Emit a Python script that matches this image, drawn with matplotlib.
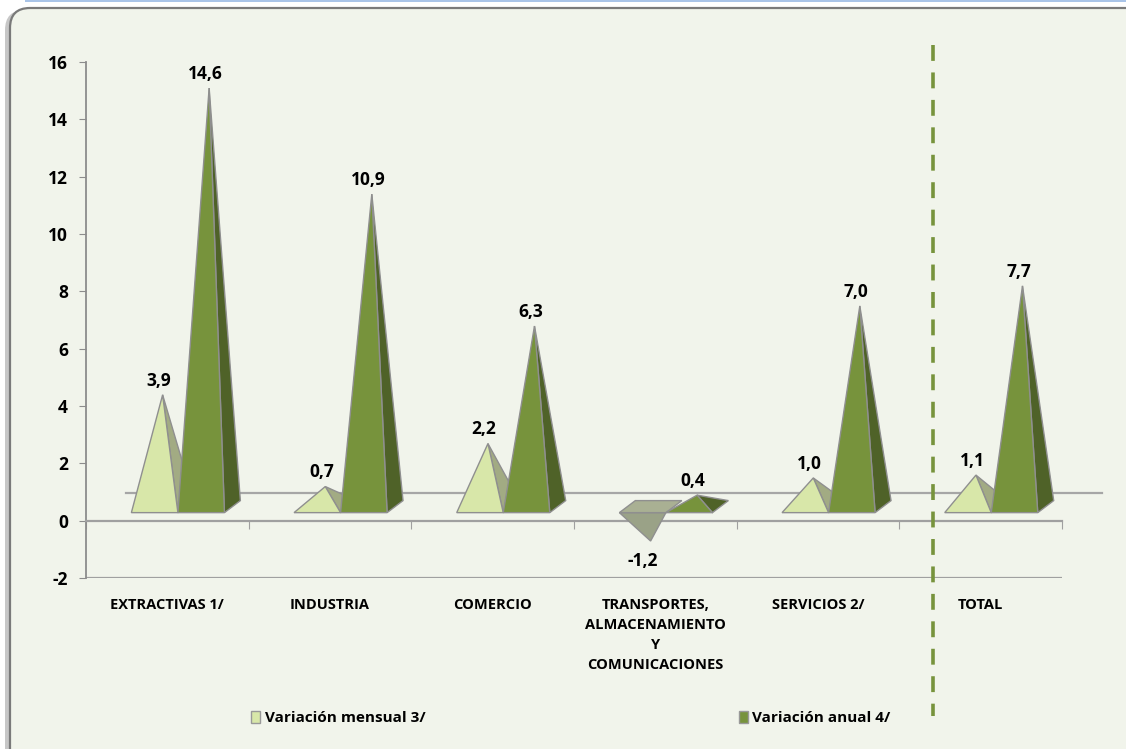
import matplotlib
matplotlib.use("Agg")
import matplotlib.pyplot as plt
from matplotlib.patches import Polygon, FancyBboxPatch, Patch, Rectangle

plt.rcParams["font.family"] = ["Open Sans", "DejaVu Sans"]
plt.rcParams["font.weight"] = "bold"

categories = ["EXTRACTIVAS 1/", "INDUSTRIA", "COMERCIO",
              "TRANSPORTES,\nALMACENAMIENTO\nY\nCOMUNICACIONES",
              "SERVICIOS 2/", "TOTAL"]
mensual = [3.9, 0.7, 2.2, -1.2, 1.0, 1.1]
anual = [14.6, 10.9, 6.3, 0.4, 7.0, 7.7]
series_names = ["Variación mensual 3/", "Variación anual 4/"]

LIGHT, LIGHT_SIDE = "#d8e7a9", "#a2ab83"
DARK, DARK_SIDE = "#77933c", "#4f6228"
NEG_TOP, NEG_FRONT = "#a9b093", "#9aa287"
EDGE = "#8f8f8f"
BG = "#f1f4eb"

# pyramid geometry (x in category units, y in value units)
WIDTH = 0.286
OFFSET = 0.279
DX, DY = 0.098, 0.42
BASE = 0.28

fig = plt.figure(figsize=(11.26, 7.49), dpi=100)
fig.patch.set_facecolor("white")

# rounded chart frame
bg = fig.add_axes([0, 0, 1, 1])
bg.set_xlim(0, 1126)
bg.set_ylim(749, 0)
bg.axis("off")
bg.add_patch(FancyBboxPatch((5, 10), 1160, 780, boxstyle="round,pad=0,rounding_size=20",
                            facecolor="#9a9a9a", edgecolor="none", alpha=0.55))
bg.add_patch(FancyBboxPatch((10, 8), 1150, 780, boxstyle="round,pad=0,rounding_size=20",
                            facecolor=BG, edgecolor="#7a7a7a", linewidth=1.6))
bg.add_patch(Rectangle((25, 0), 1110, 2, facecolor="#a9c4e8", edgecolor="none"))

ax = fig.add_axes([86 / 1126, 1 - 578 / 749, 976 / 1126, 516 / 749])
ax.set_facecolor("none")
ax.set_xlim(0, 6)
ax.set_ylim(-2, 16)

# back edge of the floor
ax.plot([0.246, 6.245], [0.98, 0.98], color="#a6a6a6", lw=1.6, zorder=1, clip_on=False)


def pyramid(x0, value, front, side):
    x1 = x0 + WIDTH
    xc = (x0 + x1) / 2
    apex = (xc + DX / 2, value + BASE + DY / 2)
    label = f"{value:.1f}".replace(".", ",")
    if value >= 0:
        ax.add_patch(Polygon([apex, (x1, BASE), (x1 + DX, BASE + DY)], closed=True,
                             facecolor=side, edgecolor=EDGE, lw=1, zorder=3))
        ax.add_patch(Polygon([(x0, BASE), (x1, BASE), apex], closed=True,
                             facecolor=front, edgecolor=EDGE, lw=1, zorder=3))
        ax.text(xc + DX / 4, apex[1] + 0.18, label, ha="center", va="bottom",
                fontsize=12.5, fontweight="bold", zorder=5)
    else:
        ax.add_patch(Polygon([(x0, BASE), (x1, BASE), apex], closed=True,
                             facecolor=NEG_FRONT, edgecolor=EDGE, lw=1, zorder=3))
        ax.add_patch(Polygon([(x0, BASE), (x1, BASE), (x1 + DX, BASE + DY), (x0 + DX, BASE + DY)],
                             closed=True, facecolor=NEG_TOP, edgecolor=EDGE, lw=1, zorder=3))
        ax.text(xc, apex[1] - 0.38, label, ha="center", va="top",
                fontsize=12.5, fontweight="bold", zorder=5)


for i, (m, a) in enumerate(zip(mensual, anual)):
    pyramid(i + OFFSET, m, LIGHT, LIGHT_SIDE)
    pyramid(i + OFFSET + WIDTH, a, DARK, DARK_SIDE)
    ax.text(i + 0.5, -2.7, categories[i], ha="center", va="top", fontsize=10.5,
            fontweight="bold", linespacing=1.55)

# separator before TOTAL
ax.plot([5.206, 5.206], [16.6, -6.8], color="#77933c", lw=2.6,
        linestyle=(0, (4.4, 3.2)), clip_on=False, zorder=4)

for s in ["top", "right"]:
    ax.spines[s].set_visible(False)
ax.spines["left"].set_color("#8c8c8c")
ax.spines["left"].set_linewidth(1.3)
ax.spines["bottom"].set_position(("data", 0))
ax.spines["bottom"].set_color("#a0a0a0")
ax.spines["bottom"].set_linewidth(1.6)
ax.axhline(-2, color="#a0a0a0", lw=1.6, zorder=1)

ax.set_yticks(range(-2, 17, 2))
ax.set_yticklabels([str(v) for v in range(-2, 17, 2)], fontsize=12.5, fontweight="bold")
ax.tick_params(axis="y", length=5, color="#8c8c8c", pad=8)
ax.set_xticks(range(0, 7))
ax.set_xticklabels([])
ax.tick_params(axis="x", length=6, color="#a0a0a0", direction="out")

handles = [Patch(facecolor=LIGHT, edgecolor="#999999"), Patch(facecolor=DARK, edgecolor="#999999")]
fig.legend(handles, series_names, loc="center", bbox_to_anchor=(0.507, 1 - 718 / 749), ncol=2,
           frameon=False, handlelength=0.6, handleheight=0.8, handletextpad=0.3,
           columnspacing=20.5, prop={"weight": "bold", "size": 11})

fig.savefig("out.png", dpi=100, facecolor=fig.get_facecolor())
